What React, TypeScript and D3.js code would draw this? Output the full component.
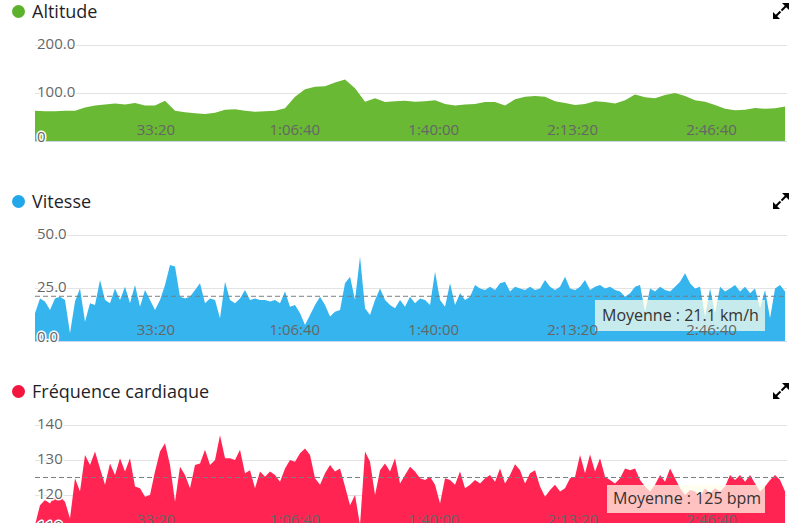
import React from 'react';
import * as d3 from 'd3';

// ---------- data ----------
const START_SEC = 259;
const END_SEC = 11087;
const timeTicks = [2000, 4000, 6000, 8000, 10000];

const altitudeStep = 144;
const altitudeValues = [
  63, 62, 62, 63, 63, 70, 74, 76, 78, 76,
  79, 74, 74, 84, 63, 60, 58, 56, 59, 65,
  66, 63, 61, 62, 63, 68, 92, 108, 113, 114,
  122, 128, 110, 82, 89, 81, 83, 84, 82, 83,
  85, 77, 74, 76, 77, 81, 81, 74, 87, 92,
  94, 92, 83, 79, 75, 77, 83, 81, 78, 85,
  97, 91, 89, 96, 100, 94, 85, 82, 75, 67,
  64, 65, 69, 67, 68, 72,
];
const altitudeTicks = [0, 100, 200];
const altitudeTickLabels = ['0', '100.0', '200.0'];

const speedStep = 72;
const speedValues = [
  13.1, 20.1, 18.6, 14.6, 20.1, 20.9, 19.3, 3.6, 18.6, 24.8,
  9.1, 17.8, 17.0, 28.8, 19.3, 17.8, 24.8, 19.3, 25.6, 17.8,
  26.4, 16.2, 24.1, 19.3, 14.6, 19.3, 26.4, 35.8, 35.1, 20.9,
  20.1, 20.9, 24.1, 27.2, 17.8, 20.1, 19.3, 10.7, 28.0, 19.3,
  17.8, 20.1, 24.1, 19.3, 20.1, 19.3, 19.3, 18.6, 19.3, 17.8,
  23.3, 16.2, 17.0, 13.1, 7.5, 12.3, 17.0, 20.9, 17.0, 11.5,
  13.8, 14.6, 27.2, 30.3, 19.3, 39.8, 15.4, 12.3, 19.3, 24.8,
  19.3, 17.0, 15.4, 19.3, 16.2, 20.9, 17.8, 20.1,
  19.3, 17.0, 32.7, 19.3, 16.2, 27.2, 17.0, 22.5, 19.3, 20.9,
  26.4, 24.8, 24.1, 25.6, 24.1, 27.2, 28.0, 23.3, 25.6, 24.8,
  24.1, 25.6, 24.1, 24.8, 28.8, 25.6, 24.1, 25.6, 30.3, 24.8,
  24.1, 25.6, 28.8, 24.1, 25.6, 26.4, 24.8, 25.6, 24.1, 23.3,
  20.9, 22.5, 25.6, 26.4, 13.8, 24.8, 23.3, 25.6, 24.1, 23.3,
  25.6, 28.0, 31.9, 27.2, 24.8, 25.6, 11.5, 24.8, 13.1, 25.6,
  23.3, 24.8, 26.4, 23.3, 25.6, 22.5, 24.8, 15.4, 24.1, 10.7,
  24.8, 26.4, 23.3,
];
const speedTicks = [0, 25, 50];
const speedTickLabels = ['0.0', '25.0', '50.0'];
const speedMean = 21.1;

const heartStep = 72;
const heartValues = [
  111.4, 117.1, 118.6, 117.6, 120.0, 119.5, 118.1, 113.3, 124.8, 121.0,
  131.4, 128.6, 132.4, 127.6, 122.9, 129.0, 125.7, 130.5, 126.7, 130.5,
  122.4, 121.9, 119.5, 120.0, 126.7, 132.4, 134.8, 128.6, 118.1, 128.1,
  125.7, 121.9, 128.6, 129.0, 132.9, 128.6, 130.0, 137.1, 130.5, 130.5,
  130.0, 132.9, 126.2, 127.1, 121.9, 126.7, 125.2, 126.7, 125.7, 123.8,
  127.6, 130.0, 129.5, 131.9, 133.3, 131.4, 124.8, 122.9, 126.2, 128.6,
  126.7, 127.6, 122.4, 117.1, 120.0, 111.4, 132.4, 129.5, 120.0, 127.1,
  129.0, 126.7, 130.5, 123.3, 125.7, 128.1, 126.7, 124.8,
  124.3, 125.2, 122.9, 117.6, 124.8, 124.3, 122.9, 126.7, 121.9, 122.9,
  124.3, 123.3, 124.8, 125.7, 123.8, 127.6, 123.3, 125.7, 128.8, 127.1,
  123.3, 126.2, 127.1, 122.4, 119.5, 121.4, 122.9, 121.0, 121.9, 124.8,
  125.2, 131.4, 126.2, 131.6, 126.7, 130.5, 125.2, 124.3, 123.3, 124.8,
  127.6, 127.1, 127.6, 124.3, 122.4, 121.0, 122.9, 125.7, 123.8, 127.6,
  124.8, 121.9, 120.0, 121.4, 121.0, 119.5, 121.9, 120.5, 121.9, 121.0,
  122.4, 125.7, 124.3, 125.7, 123.8, 125.7, 123.3, 121.0, 122.4, 124.3,
  125.7, 124.3, 121.0,
];
const heartTicks = [110, 120, 130, 140];
const heartTickLabels = ['110', '120', '130', '140'];
const heartMean = 125;

// ---------- helpers ----------
const FONT = '"Open Sans", "DejaVu Sans", sans-serif';
const PLOT_LEFT = 35;
const PLOT_RIGHT = 787;

const x = d3.scaleLinear().domain([START_SEC, END_SEC]).range([PLOT_LEFT, PLOT_RIGHT]);

function fmtTime(s: number) {
  const h = Math.floor(s / 3600);
  const m = Math.floor((s % 3600) / 60);
  const sec = s % 60;
  const pad = (n: number) => String(n).padStart(2, '0');
  return h > 0 ? `${h}:${pad(m)}:${pad(sec)}` : `${m}:${pad(sec)}`;
}

type Panel = {
  key: string;
  title: string;
  dotColor: string;
  fill: string;
  values: number[];
  step: number;
  ticks: number[];
  tickLabels: string[];
  domain: [number, number];
  range: [number, number];
  titleBaseline: number;
  xLabelBaseline: number;
  iconTop: number;
  mean?: number;
  meanLabel?: string;
  box?: { x: number; y: number; w: number; h: number; tx: number; ty: number };
  boxFill?: string;
};

const panels: Panel[] = [
  {
    key: 'alt', title: 'Altitude', dotColor: '#5db22c', fill: '#69b934',
    values: altitudeValues, step: altitudeStep,
    ticks: altitudeTicks, tickLabels: altitudeTickLabels,
    domain: [0, 200], range: [141, 45], titleBaseline: 18, xLabelBaseline: 135, iconTop: 3,
  },
  {
    key: 'spd', title: 'Vitesse', dotColor: '#22a7e8', fill: '#36b4ee',
    values: speedValues, step: speedStep,
    ticks: speedTicks, tickLabels: speedTickLabels,
    domain: [0, 50], range: [341, 235], titleBaseline: 208, xLabelBaseline: 335, iconTop: 193,
    mean: speedMean, meanLabel: `Moyenne : ${speedMean} km/h`,
    box: { x: 595, y: 300, w: 170, h: 31, tx: 602, ty: 321 },
  },
  {
    key: 'hr', title: 'Fréquence cardiaque', dotColor: '#f2153f', fill: '#ff2452',
    values: heartValues, step: heartStep,
    ticks: heartTicks, tickLabels: heartTickLabels,
    domain: [110, 140], range: [530, 425], titleBaseline: 398, xLabelBaseline: 525, iconTop: 383,
    mean: heartMean, meanLabel: `Moyenne : ${heartMean} bpm`,
    box: { x: 607, y: 485, w: 158, h: 28, tx: 613, ty: 504 },
  },
];

function ExpandIcon({ top }: { top: number }) {
  const r = 789, l = 773;
  return (
    <g fill="#000" stroke="#000">
      <polygon points={`${r},${top} ${r},${top + 7} ${r - 7},${top}`} stroke="none" />
      <line x1={r - 2.5} y1={top + 2.5} x2={r - 7.5} y2={top + 7.5} strokeWidth={2} />
      <polygon points={`${l},${top + 16} ${l},${top + 9} ${l + 7},${top + 16}`} stroke="none" />
      <line x1={l + 2.5} y1={top + 13.5} x2={l + 7.5} y2={top + 8.5} strokeWidth={2} />
    </g>
  );
}

function PanelView({ p }: { p: Panel }) {
  const y = d3.scaleLinear().domain(p.domain).range(p.range);
  const bottom = p.range[0];
  const data = p.values.map((v, i) => ({ t: START_SEC + i * p.step, v }));
  const area = d3.area<{ t: number; v: number }>()
    .x((d) => x(d.t))
    .y0(bottom)
    .y1((d) => y(d.v));
  const clipId = `clip-${p.key}`;
  return (
    <g>
      <defs>
        <clipPath id={clipId}>
          <rect x={PLOT_LEFT} y={p.range[1] - 40} width={PLOT_RIGHT - PLOT_LEFT} height={bottom - p.range[1] + 40} />
        </clipPath>
      </defs>
      {/* title */}
      <circle cx={18.5} cy={p.titleBaseline - 6.5} r={6.5} fill={p.dotColor} />
      <text x={32} y={p.titleBaseline} fontFamily={FONT} fontSize={18} fill="#1f1f2a">{p.title}</text>
      <ExpandIcon top={p.iconTop} />
      {/* gridlines */}
      {p.ticks.map((t) => (
        <line key={t} x1={PLOT_LEFT} x2={PLOT_RIGHT} y1={y(t) + 0.5} y2={y(t) + 0.5} stroke="#e3e3e3" strokeWidth={1} />
      ))}
      <line x1={PLOT_LEFT} x2={PLOT_RIGHT} y1={bottom + 0.5} y2={bottom + 0.5} stroke="#ccd6eb" strokeWidth={1} />
      {/* area */}
      <path d={area(data) || ''} fill={p.fill} clipPath={`url(#${clipId})`} />
      {/* mean line */}
      {p.mean !== undefined && (
        <line x1={PLOT_LEFT} x2={PLOT_RIGHT} y1={y(p.mean)} y2={y(p.mean)} stroke="#7a7f80" strokeWidth={1} strokeDasharray="5,3" />
      )}
      {/* mean box */}
      {p.box && (
        <g>
          <rect x={p.box.x} y={p.box.y} width={p.box.w} height={p.box.h} fill="rgba(255,255,235,0.72)" />
          <text x={p.box.tx} y={p.box.ty} fontFamily={FONT} fontSize={16} fill="#333">{p.meanLabel}</text>
        </g>
      )}
      {/* x labels */}
      {timeTicks.map((t) => (
        <text key={t} x={x(t)} y={p.xLabelBaseline} textAnchor="middle" fontFamily={FONT} fontSize={15} fill="#666">{fmtTime(t)}</text>
      ))}
      {/* y labels */}
      {p.ticks.map((t, i) => (
        <text key={t} x={37} y={i === 0 ? y(t) + 1 : y(t) + 4} fontFamily={FONT} fontSize={15} fill="#666"
          stroke="#fff" strokeWidth={3} strokeLinejoin="round" style={{ paintOrder: 'stroke' }}>{p.tickLabels[i]}</text>
      ))}
    </g>
  );
}

export default function App() {
  return (
    <svg width={811} height={523} style={{ position: 'absolute', left: 0, top: 0, background: '#fff' }}>
      <rect x={0} y={0} width={811} height={523} fill="#fff" />
      {panels.map((p) => <PanelView key={p.key} p={p} />)}
    </svg>
  );
}
